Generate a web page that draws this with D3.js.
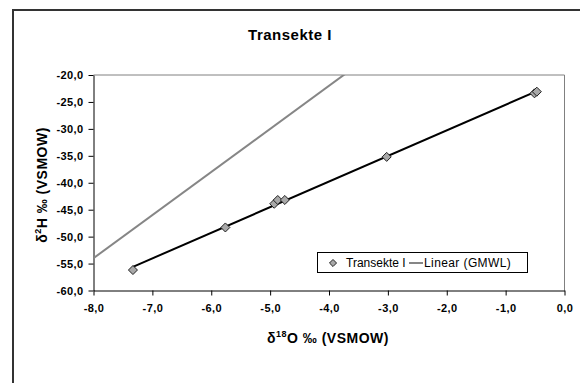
<!DOCTYPE html>
<html>
<head>
<meta charset="utf-8">
<script src="https://cdn.jsdelivr.net/npm/d3@7"></script>
<style>
  body { margin: 0; background: #fff; }
  text { font-family: Arial, "Liberation Sans", sans-serif; }
</style>
</head>
<body>
<svg id="chart"></svg>
<script>
// Transekte I samples (delta 18O, delta 2H)
const d18O = [-7.33, -5.76, -4.93, -4.87, -4.75, -3.02, -0.51, -0.47];
const d2H = [-56.2, -48.3, -43.9, -43.2, -43.2, -35.2, -23.4, -23.1];

// Global meteoric water line end points
const gmwlX = [-8, 0];
const gmwlY = [-54, 10];

const xTicks = [-8, -7, -6, -5, -4, -3, -2, -1, 0];
const yTicks = [-60, -55, -50, -45, -40, -35, -30, -25, -20];

const fmt = v => d3.format(".1f")(v).replace(".", ",").replace("−", "-");

const svg = d3.select('#chart')
  .attr('width', 580)
  .attr('height', 383);

// outer chart frame (runs past the window on right and bottom)
svg.append("rect")
  .attr("x", 13).attr("y", 10)
  .attr("width", 620).attr("height", 420)
  .attr("fill", "#fff")
  .attr("stroke", "#333")
  .attr("stroke-width", 2);

const pLeft = 93.5, pRight = 564.5, pTop = 75, pBottom = 290.5;

const x = d3.scaleLinear().domain([-8, 0]).range([pLeft, pRight]);
const y = d3.scaleLinear().domain([-60, -20]).range([pBottom, pTop]);

svg.append("defs").append("clipPath").attr("id", "plot")
  .append("rect")
  .attr("x", pLeft).attr("y", pTop)
  .attr("width", pRight - pLeft).attr("height", pBottom - pTop);

// plot area border (top & right gray)
svg.append("path")
  .attr("d", `M${pLeft},${pTop}H${pRight}V${pBottom}`)
  .attr("fill", "none")
  .attr("stroke", "#808080")
  .attr("stroke-width", 1);

const gx = svg.append("g")
  .attr("transform", `translate(0,${pBottom})`)
  .call(d3.axisBottom(x).tickValues(xTicks).tickFormat(fmt).tickSize(5).tickPadding(9).tickSizeOuter(0));

const gy = svg.append("g")
  .attr("transform", `translate(${pLeft},0)`)
  .call(d3.axisLeft(y).tickValues(yTicks).tickFormat(fmt).tickSize(5).tickPadding(5).tickSizeOuter(0));

[gx, gy].forEach(g => {
  g.select(".domain").attr("stroke", "#000").attr("stroke-width", 1);
  g.selectAll(".tick line").attr("stroke", "#000");
  g.selectAll("text")
    .attr("font-family", "Arial, 'Liberation Sans', sans-serif")
    .attr("font-size", 11)
    .attr("letter-spacing", 0.4)
    .attr("font-weight", "bold")
    .attr("fill", "#000");
});

const plot = svg.append("g").attr("clip-path", "url(#plot)");

// GMWL
plot.append("path")
  .datum(gmwlX.map((v, i) => [v, gmwlY[i]]))
  .attr("d", d3.line().x(d => x(d[0])).y(d => y(d[1])))
  .attr("fill", "none")
  .attr("stroke", "#868686")
  .attr("stroke-width", 2);

// linear trend of the samples
const mx = d3.mean(d18O), my = d3.mean(d2H);
const slope = d3.sum(d18O, (v, i) => (v - mx) * (d2H[i] - my)) / d3.sum(d18O, v => (v - mx) ** 2);
const icpt = my - slope * mx;
const [x0, x1] = d3.extent(d18O);
plot.append("path")
  .datum([[x0, icpt + slope * x0], [x1, icpt + slope * x1]])
  .attr("d", d3.line().x(d => x(d[0])).y(d => y(d[1])))
  .attr("fill", "none")
  .attr("stroke", "#000")
  .attr("stroke-width", 2);

const diamond = d3.symbol().type(d3.symbolDiamond2).size(52);

plot.selectAll("path.pt")
  .data(d18O.map((v, i) => [v, d2H[i]]))
  .join("path")
  .attr("class", "pt")
  .attr("d", diamond)
  .attr("transform", d => `translate(${x(d[0])},${y(d[1])})`)
  .attr("fill", "#a8a8a8")
  .attr("stroke", "#222")
  .attr("stroke-width", 1);

// title
svg.append("text")
  .attr("x", 290).attr("y", 40)
  .attr("text-anchor", "middle")
  .attr("font-size", 15)
  .attr("letter-spacing", 0.5)
  .attr("font-weight", "bold")
  .text("Transekte I");

// x axis title
const xt = svg.append("text")
  .attr("x", 328).attr("y", 343)
  .attr("text-anchor", "middle")
  .attr("font-size", 14)
  .attr("letter-spacing", 0.5)
  .attr("font-weight", "bold");
xt.append("tspan").text("δ");
xt.append("tspan").attr("font-size", 9).attr("dy", -6).text("18");
xt.append("tspan").attr("dy", 6).text("O ‰ (VSMOW)");

// y axis title
const yt = svg.append("text")
  .attr("transform", `translate(47,185) rotate(-90)`)
  .attr("text-anchor", "middle")
  .attr("font-size", 14)
  .attr("letter-spacing", 0.5)
  .attr("font-weight", "bold");
yt.append("tspan").text("δ");
yt.append("tspan").attr("font-size", 9).attr("dy", -6).text("2");
yt.append("tspan").attr("dy", 6).text("H ‰ (VSMOW)");

// legend
const lg = svg.append("g");
lg.append("rect")
  .attr("x", 317.5).attr("y", 252.5)
  .attr("width", 210).attr("height", 20)
  .attr("fill", "#fff")
  .attr("stroke", "#000")
  .attr("stroke-width", 1);
lg.append("path")
  .attr("d", d3.symbol().type(d3.symbolDiamond2).size(32))
  .attr("transform", "translate(333,263)")
  .attr("fill", "#a8a8a8")
  .attr("stroke", "#222");
lg.append("text")
  .attr("x", 346).attr("y", 267)
  .attr("font-size", 12)
  .text("Transekte I");
lg.append("line")
  .attr("x1", 409).attr("x2", 423)
  .attr("y1", 263).attr("y2", 263)
  .attr("stroke", "#868686")
  .attr("stroke-width", 2);
lg.append("text")
  .attr("x", 424).attr("y", 267)
  .attr("font-size", 12)
  .attr("letter-spacing", 0.4)
  .text("Linear (GMWL)");
</script>
</body>
</html>
